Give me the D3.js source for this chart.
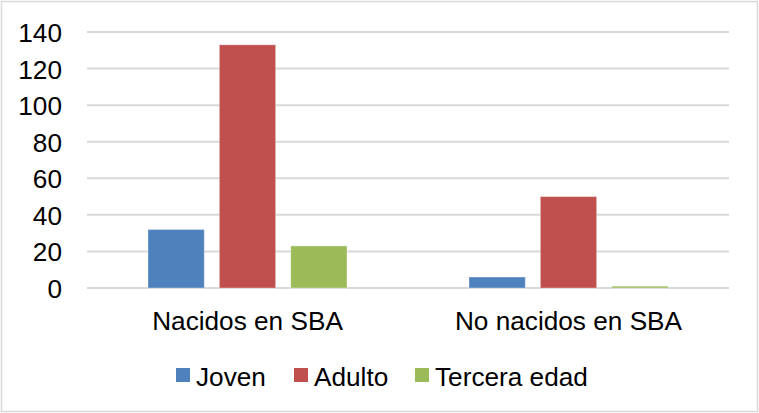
<!DOCTYPE html>
<html>
<head>
<meta charset="utf-8">
<script src="https://cdn.jsdelivr.net/npm/d3@7"></script>
<style>
html, body { margin: 0; padding: 0; background: #fff; }
svg { display: block; }
text { font-family: "Liberation Sans", Arial, sans-serif; fill: #000; }
</style>
</head>
<body>
<svg id="chart" width="759" height="413"></svg>
<script>
const categories = ["Nacidos en SBA", "No nacidos en SBA"];
const seriesNames = ["Joven", "Adulto", "Tercera edad"];
const joven = [32, 6];
const adulto = [133, 50];
const tercera = [23, 1];
const yTicks = [0, 20, 40, 60, 80, 100, 120, 140];
const colors = ["#4F81BD", "#C0504D", "#9BBB59"];

const seriesValues = [joven, adulto, tercera];
const W = 759, H = 413;
const FS = "26.2px";
const plot = { left: 87, right: 729, top: 32, bottom: 288 };
const svg = d3.select("#chart");

svg.append("rect")
  .attr("x", 1.5).attr("y", 1.5)
  .attr("width", W - 3).attr("height", H - 3)
  .attr("fill", "#fff").attr("stroke", "#D9D9D9").attr("stroke-width", 1.5);

const x0 = d3.scaleBand().domain(categories).range([plot.left, plot.right]).paddingInner(0).paddingOuter(0);
const x1 = d3.scaleBand().domain(seriesNames).range([61, x0.bandwidth() - 61]).paddingInner(15 / 71).paddingOuter(0);
const y = d3.scaleLinear().domain([0, 140]).range([plot.bottom, plot.top]);

// gridlines
svg.append("g").selectAll("line").data(yTicks).join("line")
  .attr("x1", plot.left).attr("x2", plot.right)
  .attr("y1", d => y(d)).attr("y2", d => y(d))
  .attr("stroke", "#D9D9D9").attr("stroke-width", 2);

// y axis labels
const yAxis = d3.axisLeft(y).tickValues(yTicks).tickSize(0).tickPadding(0);
const gy = svg.append("g").attr("transform", `translate(62,0)`).call(yAxis);
gy.select(".domain").remove();
gy.selectAll("text").attr("font-size", FS).attr("font-family", "Liberation Sans, Arial, sans-serif").attr("fill", "#000").attr("dy", "0.36em");

// bars
const groups = svg.append("g").selectAll("g").data(categories).join("g")
  .attr("transform", d => `translate(${x0(d)},0)`);
groups.selectAll("rect").data((c, ci) => seriesNames.map((s, si) => ({ s, si, v: seriesValues[si][ci] })))
  .join("rect")
  .attr("x", d => x1(d.s))
  .attr("width", x1.bandwidth())
  .attr("y", d => y(d.v))
  .attr("height", d => y(0) - y(d.v))
  .attr("fill", d => colors[d.si])
  .attr("stroke", "rgba(255,255,255,0.35)").attr("stroke-width", 1);

// x axis labels
const xAxis = d3.axisBottom(x0).tickSize(0).tickPadding(0);
const gx = svg.append("g").attr("transform", `translate(0,${plot.bottom})`).call(xAxis);
gx.select(".domain").remove();
gx.selectAll("text").attr("font-size", FS).attr("font-family", "Liberation Sans, Arial, sans-serif").attr("fill", "#000").attr("dy", null).attr("y", 41.5);

// legend
const legendX = [176, 294, 415];
const leg = svg.append("g").selectAll("g").data(seriesNames).join("g")
  .attr("transform", (d, i) => `translate(${legendX[i]},0)`);
leg.append("rect").attr("x", 0).attr("y", 368).attr("width", 14).attr("height", 14)
  .attr("fill", (d, i) => colors[i]);
leg.append("text").attr("x", 20).attr("y", 386).attr("font-size", FS).text(d => d);
</script>
</body>
</html>
